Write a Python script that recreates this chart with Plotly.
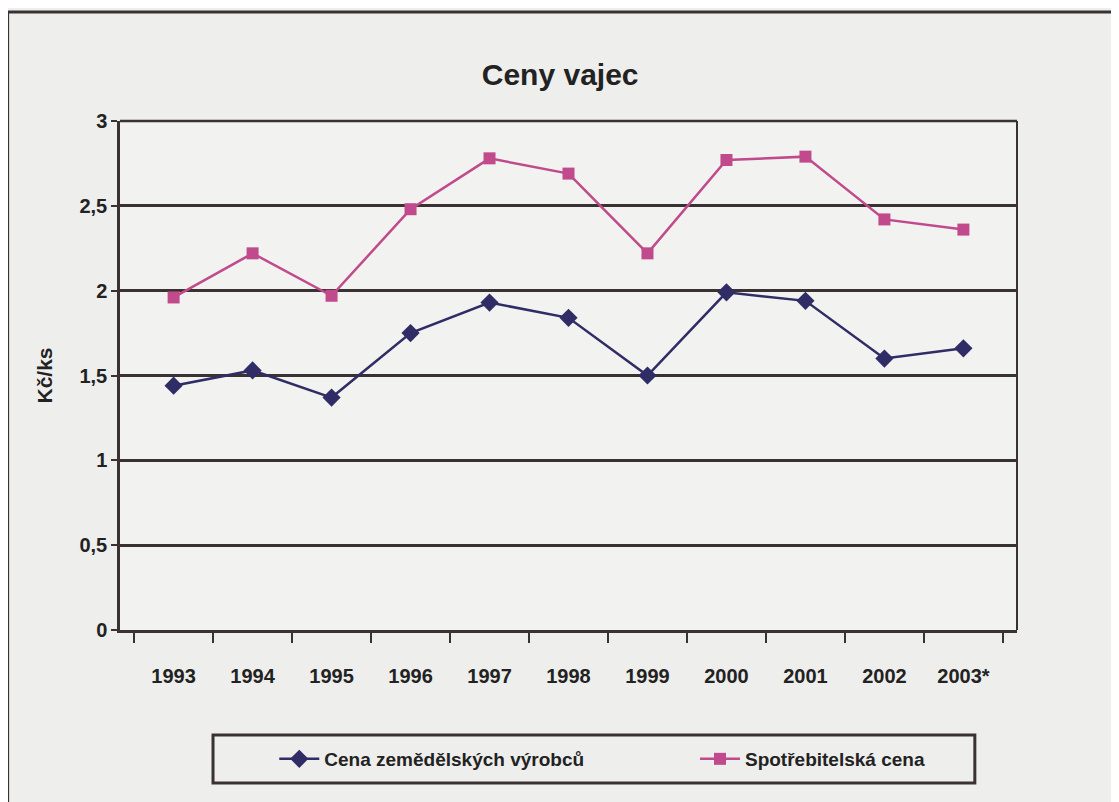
import plotly.graph_objects as go

years = ["1993", "1994", "1995", "1996", "1997", "1998", "1999", "2000", "2001", "2002", "2003*"]
producer = [1.44, 1.53, 1.37, 1.75, 1.93, 1.84, 1.50, 1.99, 1.94, 1.60, 1.66]
consumer = [1.96, 2.22, 1.97, 2.48, 2.78, 2.69, 2.22, 2.77, 2.79, 2.42, 2.36]
yticks = [0, 0.5, 1, 1.5, 2, 2.5, 3]
ytick_text = ["0", "0,5", "1", "1,5", "2", "2,5", "3"]

font = "Liberation Sans Narrow, Arial Narrow, Liberation Sans"
dark = "#3a3232"

fig = go.Figure()
fig.add_trace(go.Scatter(
    x=years, y=producer, mode="lines+markers", name="<b>Cena zemědělských výrobců</b>",
    line=dict(color="#2f2c66", width=2.5),
    marker=dict(symbol="diamond", size=14, color="#2f2c66"),
    legend="legend",
))
fig.add_trace(go.Scatter(
    x=years, y=consumer, mode="lines+markers", name="<b>Spotřebitelská cena</b>",
    line=dict(color="#c04a8c", width=2.5),
    marker=dict(symbol="square", size=12, color="#c04a8c"),
    legend="legend2",
))

legend_style = dict(orientation="h", xanchor="left", y=-0.2534, yanchor="middle",
                    bgcolor="rgba(0,0,0,0)", borderwidth=0,
                    font=dict(family=font, size=19, color="#222"), itemwidth=40)

# page has 8px body margin, so figure is 1111x794 placed at (8,8)
fig.update_layout(
    width=1111, height=794,
    margin=dict(l=112, r=102, t=113, b=172, autoexpand=False),
    paper_bgcolor="#eeeeec",
    plot_bgcolor="#f2f2f0",
    title=dict(text="<b>Ceny vajec</b>", x=0.497, xanchor="center", y=0.916, yanchor="middle",
               font=dict(family=font, size=30, color="#222")),
    showlegend=True,
    legend=dict(x=0.172, **legend_style),
    legend2=dict(x=0.641, **legend_style),
    font=dict(family=font, color="#222"),
)

fig.update_xaxes(
    type="category", showgrid=False, tickson="boundaries", ticks="outside", ticklen=10,
    tickwidth=2, tickcolor=dark, showline=True, linecolor=dark, linewidth=3,
    tickfont=dict(family=font, size=20, color="#222"), mirror=False, automargin=False,
    tickprefix="<b>", ticksuffix="</b>", ticklabelstandoff=26,
)
fig.update_yaxes(
    range=[0, 3], tickvals=yticks, ticktext=["<b>%s</b>" % t for t in ytick_text],
    showgrid=True, gridcolor=dark, gridwidth=2.5, ticks="outside", ticklen=6,
    tickwidth=2, tickcolor=dark, showline=True, linecolor=dark, linewidth=2.5,
    tickfont=dict(family=font, size=20, color="#222"), zeroline=False, automargin=False,
    title=dict(text="<b>Kč/ks</b>", font=dict(family=font, size=21, color="#222"), standoff=22),
)

# plot area right and top border
fig.add_shape(type="line", xref="paper", yref="paper", x0=1, x1=1, y0=0, y1=1,
              line=dict(color=dark, width=2))
fig.add_shape(type="line", xref="paper", yref="paper", x0=0, x1=1, y0=1, y1=1,
              line=dict(color=dark, width=2.5))
# legend box
fig.add_shape(type="rect", xref="paper", yref="paper", x0=0.1037, x1=0.953, y0=-0.3006, y1=-0.2063,
              line=dict(color=dark, width=3))
# outer chart frame
fig.add_shape(type="line", xref="paper", yref="paper", x0=-0.125, x1=-0.125, y0=-0.4, y1=1.214,
              line=dict(color=dark, width=2.5))
fig.add_shape(type="line", xref="paper", yref="paper", x0=-0.125, x1=1.107, y0=1.214, y1=1.214,
              line=dict(color=dark, width=3))
fig.add_shape(type="line", xref="paper", yref="paper", x0=1.107, x1=1.107, y0=-0.4, y1=1.214,
              line=dict(color=dark, width=2.5))

fig.write_html("out.html")
